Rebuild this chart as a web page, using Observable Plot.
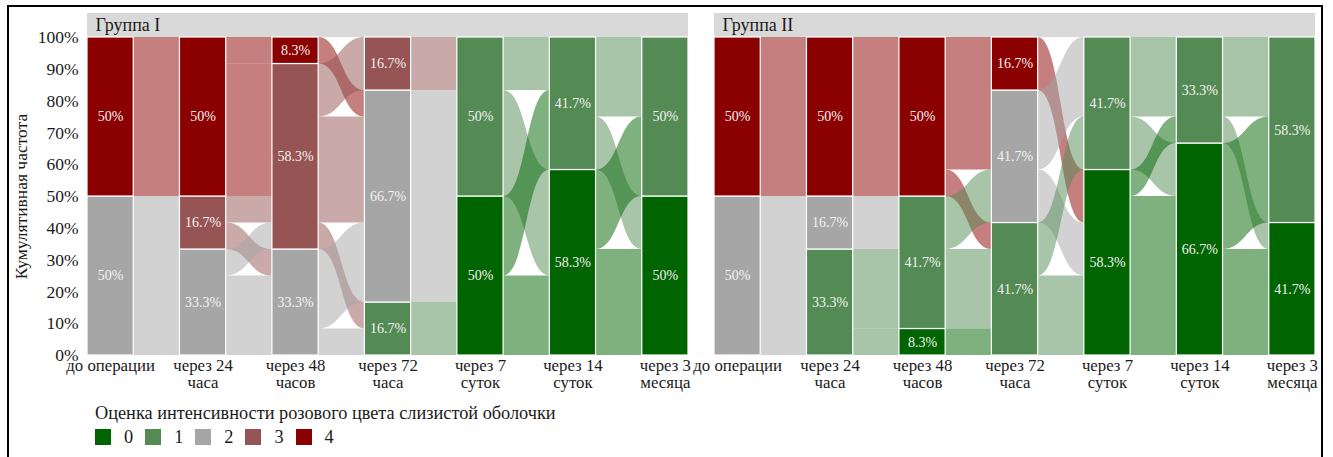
<!DOCTYPE html>
<html>
<head>
<meta charset="utf-8">
<script src="https://cdn.jsdelivr.net/npm/d3@7"></script>
<script src="https://cdn.jsdelivr.net/npm/@observablehq/plot@0.6"></script>
<style>
  html, body { margin: 0; padding: 0; background: #fff; }
  #wrap { position: relative; width: 1333px; height: 457px; overflow: hidden; font-family: "Liberation Serif", serif; }
  #frame { position: absolute; left: 7px; top: 5px; width: 1316px; height: 470px; border: 2px solid #000; box-sizing: border-box; pointer-events: none; }
  #chart { position: absolute; left: 0; top: 0; }
  #legend { position: absolute; left: 95px; top: 402px; color: #1a1a1a; font-size: 18.3px; font-family: "Liberation Serif", serif; }
  #legend .title { line-height: 22px; }
  #legend .row { display: flex; align-items: center; margin-top: 4px; }
  #legend .sw { width: 16px; height: 16px; margin-right: 13px; }
  #legend .lab { margin-right: 12px; line-height: 18px; }
</style>
</head>
<body>
<div id="wrap">
  <div id="chart"></div>
  <div id="legend"></div>
  <div id="frame"></div>
</div>
<script>
// ---------- data ----------
const groups = ["Группа I", "Группа II"];
const timeLabels = ["до операции", "через 24\nчаса", "через 48\nчасов", "через 72\nчаса", "через 7\nсуток", "через 14\nсуток", "через 3\nмесяца"];
const scores = [0, 1, 2, 3, 4];
const scoreColors = ["#006400", "#548B54", "#A6A6A6", "#965454", "#8B0000"];
const legendTitle = "Оценка интенсивности розового цвета слизистой оболочки";
const yTitle = "Кумулятивная частота";
const nPatients = 12;

// transitions between consecutive time points: [from score, to score, patients]
const flowsGroupI = [
  [[4, 4, 6], [2, 3, 2], [2, 2, 4]],
  [[4, 4, 1], [4, 3, 5], [3, 3, 1], [3, 2, 1], [2, 3, 1], [2, 2, 3]],
  [[4, 2, 1], [3, 3, 2], [3, 2, 4], [3, 1, 1], [2, 2, 3], [2, 1, 1]],
  [[3, 1, 2], [2, 1, 4], [2, 0, 4], [1, 0, 2]],
  [[1, 1, 2], [1, 0, 4], [0, 1, 3], [0, 0, 3]],
  [[1, 1, 3], [1, 0, 2], [0, 1, 3], [0, 0, 4]]
];
const flowsGroupII = [
  [[4, 4, 6], [2, 2, 2], [2, 1, 4]],
  [[4, 4, 6], [2, 1, 2], [1, 1, 3], [1, 0, 1]],
  [[4, 4, 2], [4, 2, 3], [4, 1, 1], [1, 2, 2], [1, 1, 3], [0, 1, 1]],
  [[4, 0, 2], [2, 1, 3], [2, 0, 2], [1, 1, 2], [1, 0, 3]],
  [[1, 1, 3], [1, 0, 2], [0, 1, 1], [0, 0, 6]],
  [[1, 1, 3], [1, 0, 1], [0, 1, 4], [0, 0, 4]]
];

// ---------- layout (alluvial stacking) ----------
const halfWidth = 0.25; // stratum half width in axis units
const strata = [];
const flowPts = [];
function build(group, gaps) {
  const counts = [];
  counts[0] = scores.map(s => d3.sum(gaps[0].filter(f => f[0] === s), f => f[2]));
  gaps.forEach((gap, g) => {
    counts[g + 1] = scores.map(s => d3.sum(gap.filter(f => f[1] === s), f => f[2]));
  });
  const tops = counts.map((c, a) => {
    let cum = 0;
    const t = {};
    scores.forEach(s => {
      const n = c[s];
      if (n > 0) strata.push({group, axis: a + 1, score: s, y1: cum / nPatients, y2: (cum + n) / nPatients, n});
      cum += n;
      t[s] = cum;
    });
    return t;
  });
  gaps.forEach((gap, g) => {
    const topL = {...tops[g]};
    const topR = {...tops[g + 1]};
    const pos = gap.map(f => ({from: f[0], to: f[1], n: f[2]}));
    pos.slice().sort((a, b) => b.from - a.from || b.to - a.to).forEach(f => {
      f.lt = topL[f.from]; f.lb = f.lt - f.n; topL[f.from] = f.lb;
    });
    pos.slice().sort((a, b) => b.to - a.to || b.from - a.from).forEach(f => {
      f.rt = topR[f.to]; f.rb = f.rt - f.n; topR[f.to] = f.rb;
    });
    pos.forEach((f, i) => {
      const id = `${group}-${g}-${i}`;
      flowPts.push({group, id, from: f.from, x: g + 1 + halfWidth, lo: f.lb / nPatients, hi: f.lt / nPatients});
      flowPts.push({group, id, from: f.from, x: g + 2 - halfWidth, lo: f.rb / nPatients, hi: f.rt / nPatients});
    });
  });
}
build(groups[0], flowsGroupI);
build(groups[1], flowsGroupII);

const xDomain = [1 - halfWidth, timeLabels.length + halfWidth];
const strip = groups.map(g => ({group: g}));
const pct = n => (Math.round(n / nPatients * 1000) / 10) + "%";
const serif = "'Liberation Serif', serif";

const chart = Plot.plot({
  width: 1333,
  height: 400,
  marginLeft: 86,
  marginRight: 17,
  marginTop: 37,
  marginBottom: 45,
  style: {fontFamily: serif, fontSize: "17px", color: "#1a1a1a", background: "transparent"},
  fx: {domain: groups, paddingInner: 0.0414, paddingOuter: 0, axis: null},
  x: {domain: xDomain},
  y: {domain: [0, 1]},
  color: {domain: scores, range: scoreColors},
  marks: [
    Plot.rect(strip, {fx: "group", x1: () => xDomain[0], x2: () => xDomain[1], y1: () => 1, y2: () => 1.0755, fill: "#D9D9D9"}),
    Plot.text(strip, {fx: "group", x: () => xDomain[0], y: () => 1.0377, text: "group", textAnchor: "start", dx: 8, fontSize: 18, fill: "#1a1a1a"}),
    Plot.area(flowPts, {fx: "group", x1: "x", y1: "lo", y2: "hi", z: "id", fill: "from", fillOpacity: 0.5, curve: "bump-x"}),
    Plot.rect(strata, {fx: "group", x1: d => d.axis - halfWidth, x2: d => d.axis + halfWidth, y1: "y1", y2: "y2", fill: "score", stroke: "white", strokeWidth: 1.2}),
    Plot.text(strata, {fx: "group", x: "axis", y: d => (d.y1 + d.y2) / 2, text: d => pct(d.n), fill: "#F2F2F2", fontSize: 14}),
    Plot.axisX({ticks: d3.range(1, timeLabels.length + 1), tickFormat: i => timeLabels[i - 1], tickSize: 0, tickPadding: 4, fontSize: 16.8, label: null}),
    Plot.axisY({ticks: d3.range(0, 11).map(i => i / 10), tickFormat: d => Math.round(d * 100) + "%", tickSize: 0, tickPadding: 9, fontSize: 17.5, label: yTitle, labelAnchor: "center", labelOffset: 73, labelArrow: "none"})
  ]
});
document.getElementById("chart").append(chart);

// legend
const leg = document.getElementById("legend");
const t = document.createElement("div");
t.className = "title";
t.textContent = legendTitle;
leg.append(t);
const row = document.createElement("div");
row.className = "row";
scores.forEach((s, i) => {
  const sw = document.createElement("span");
  sw.className = "sw";
  sw.style.background = scoreColors[i];
  const lab = document.createElement("span");
  lab.className = "lab";
  lab.textContent = String(s);
  row.append(sw, lab);
});
leg.append(row);
</script>
</body>
</html>
